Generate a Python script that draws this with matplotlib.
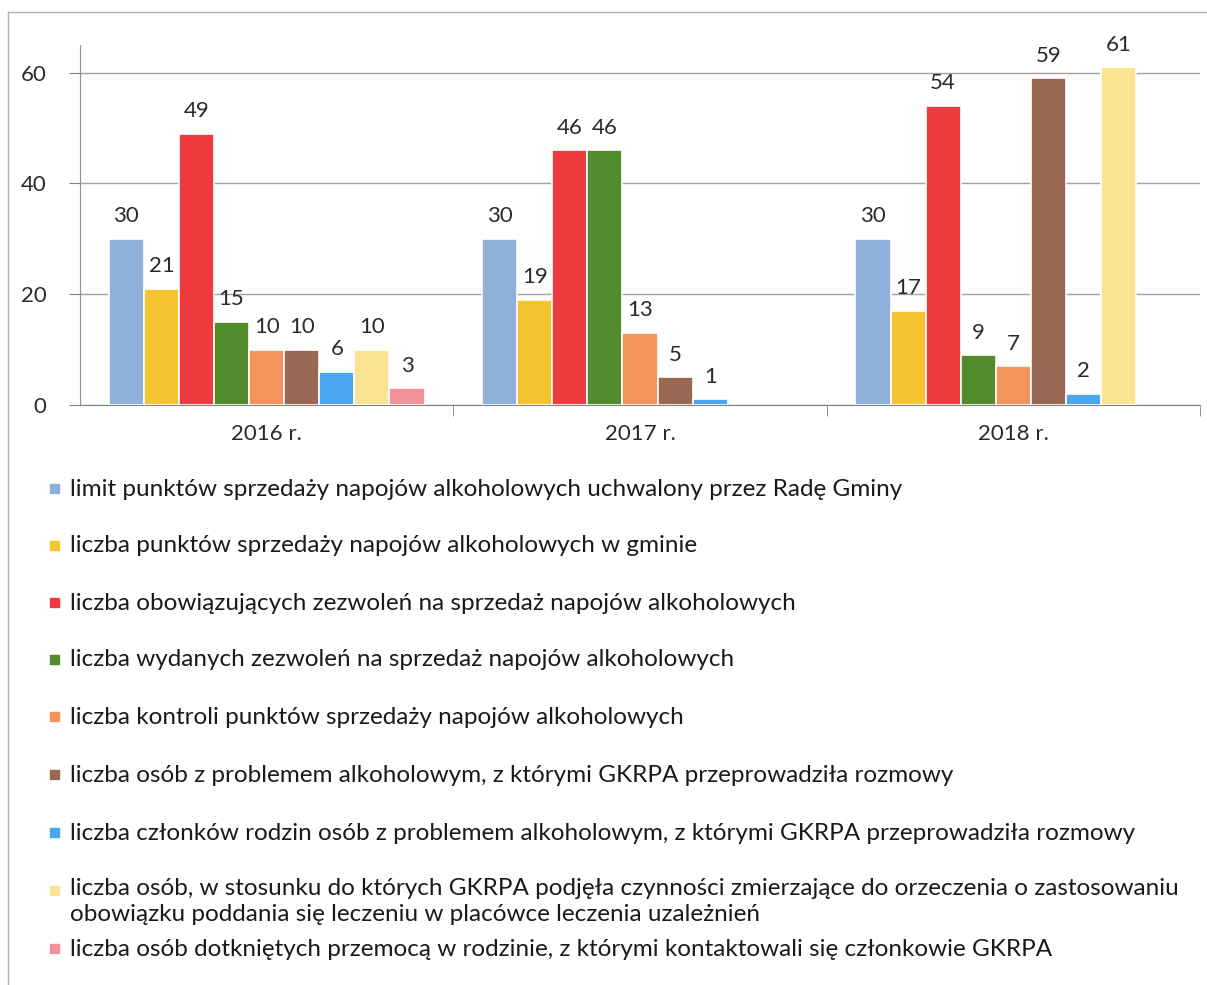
import matplotlib.pyplot as plt
from matplotlib.patches import Rectangle
import numpy as np

plt.rcParams['font.family'] = ['Lato', 'DejaVu Sans']

years = ['2016 r.', '2017 r.', '2018 r.']

series_labels = [
    'limit punktów sprzedaży napojów alkoholowych uchwalony przez Radę Gminy',
    'liczba punktów sprzedaży napojów alkoholowych w gminie',
    'liczba obowiązujących zezwoleń na sprzedaż napojów alkoholowych',
    'liczba wydanych zezwoleń na sprzedaż napojów alkoholowych',
    'liczba kontroli punktów sprzedaży napojów alkoholowych',
    'liczba osób z problemem alkoholowym, z którymi GKRPA przeprowadziła rozmowy',
    'liczba członków rodzin osób z problemem alkoholowym, z którymi GKRPA przeprowadziła rozmowy',
    'liczba osób, w stosunku do których GKRPA podjęła czynności zmierzające do orzeczenia o zastosowaniu\n'
    'obowiązku poddania się leczeniu w placówce leczenia uzależnień',
    'liczba osób dotkniętych przemocą w rodzinie, z którymi kontaktowali się członkowie GKRPA',
]

# values per series: [2016, 2017, 2018]; None = no bar
limit_punktow = [30, 30, 30]
punkty_sprzedazy = [21, 19, 17]
obowiazujace_zezwolenia = [49, 46, 54]
wydane_zezwolenia = [15, 46, 9]
kontrole = [10, 13, 7]
osoby_z_problemem = [10, 5, 59]
czlonkowie_rodzin = [6, 1, 2]
osoby_leczenie = [10, None, 61]
osoby_przemoc = [3, None, None]

series_values = [limit_punktow, punkty_sprzedazy, obowiazujace_zezwolenia,
                 wydane_zezwolenia, kontrole, osoby_z_problemem,
                 czlonkowie_rodzin, osoby_leczenie, osoby_przemoc]

colors = ['#8fb0da', '#f5c431', '#ee3b3f', '#528c2c', '#f4935a',
          '#9a6852', '#4aa6ee', '#fae391', '#f2939c']

W, H = 1207, 985
fig = plt.figure(figsize=(W / 100, H / 100), dpi=100)
ax = fig.add_axes([80 / W, 1 - 405 / H, 1120 / W, 360 / H])

# outer chart frame (left and top edges visible)
fig.add_artist(plt.Line2D([8 / W, 8 / W], [0, 1 - 12 / H], transform=fig.transFigure,
                          color='#b0b0b0', linewidth=1))
fig.add_artist(plt.Line2D([8 / W, 1], [1 - 12 / H, 1 - 12 / H], transform=fig.transFigure,
                          color='#b0b0b0', linewidth=1))

x = np.arange(len(years))
slot = 0.094
n = len(series_values)
for i, (vals, col) in enumerate(zip(series_values, colors)):
    pos = x + (i - (n - 1) / 2) * slot
    for xp, v in zip(pos, vals):
        if v is None:
            continue
        ax.bar(xp, v, width=slot, color=col, edgecolor='white', linewidth=1.2, zorder=3)
        ax.annotate(str(v), (xp, v), xytext=(0, 9), textcoords='offset points',
                    ha='center', va='bottom', fontsize=16, color='#2a2a2a')

ax.set_xlim(-0.5, 2.5)
ax.set_ylim(0, 65)
ax.set_yticks([0, 20, 40, 60])
ax.yaxis.grid(True, color='#a0a0a0', linewidth=1)
ax.set_axisbelow(True)
ax.set_xticks(x)
ax.set_xticklabels(years)
ax.set_xticks([0.5, 1.5, 2.5], minor=True)
ax.tick_params(axis='x', which='major', length=0, pad=14, labelsize=16, labelcolor='#2a2a2a')
ax.tick_params(axis='x', which='minor', length=8, color='#808080', direction='out')
ax.tick_params(axis='y', length=8, color='#808080', pad=16, labelsize=16, labelcolor='#2a2a2a')
for s in ['top', 'right']:
    ax.spines[s].set_visible(False)
ax.spines['left'].set_color('#909090')
ax.spines['bottom'].set_color('#808080')

# legend, one entry per row below the plot
rows_y = [489, 546, 603, 660, 717, 775, 833, 891, 949]
for yy, lab, col in zip(rows_y, series_labels, colors):
    fig.patches.append(Rectangle((50 / W, 1 - (yy + 4) / H), 9 / W, 9 / H,
                                 transform=fig.transFigure, color=col))
    multi = '\n' in lab
    fig.text(70 / W, 1 - (yy - 13 if multi else yy) / H, lab, fontsize=17.5,
             color='#1a1a1a', va='top' if multi else 'center', ha='left',
             linespacing=1.3)

fig.savefig('out.png', dpi=100)
